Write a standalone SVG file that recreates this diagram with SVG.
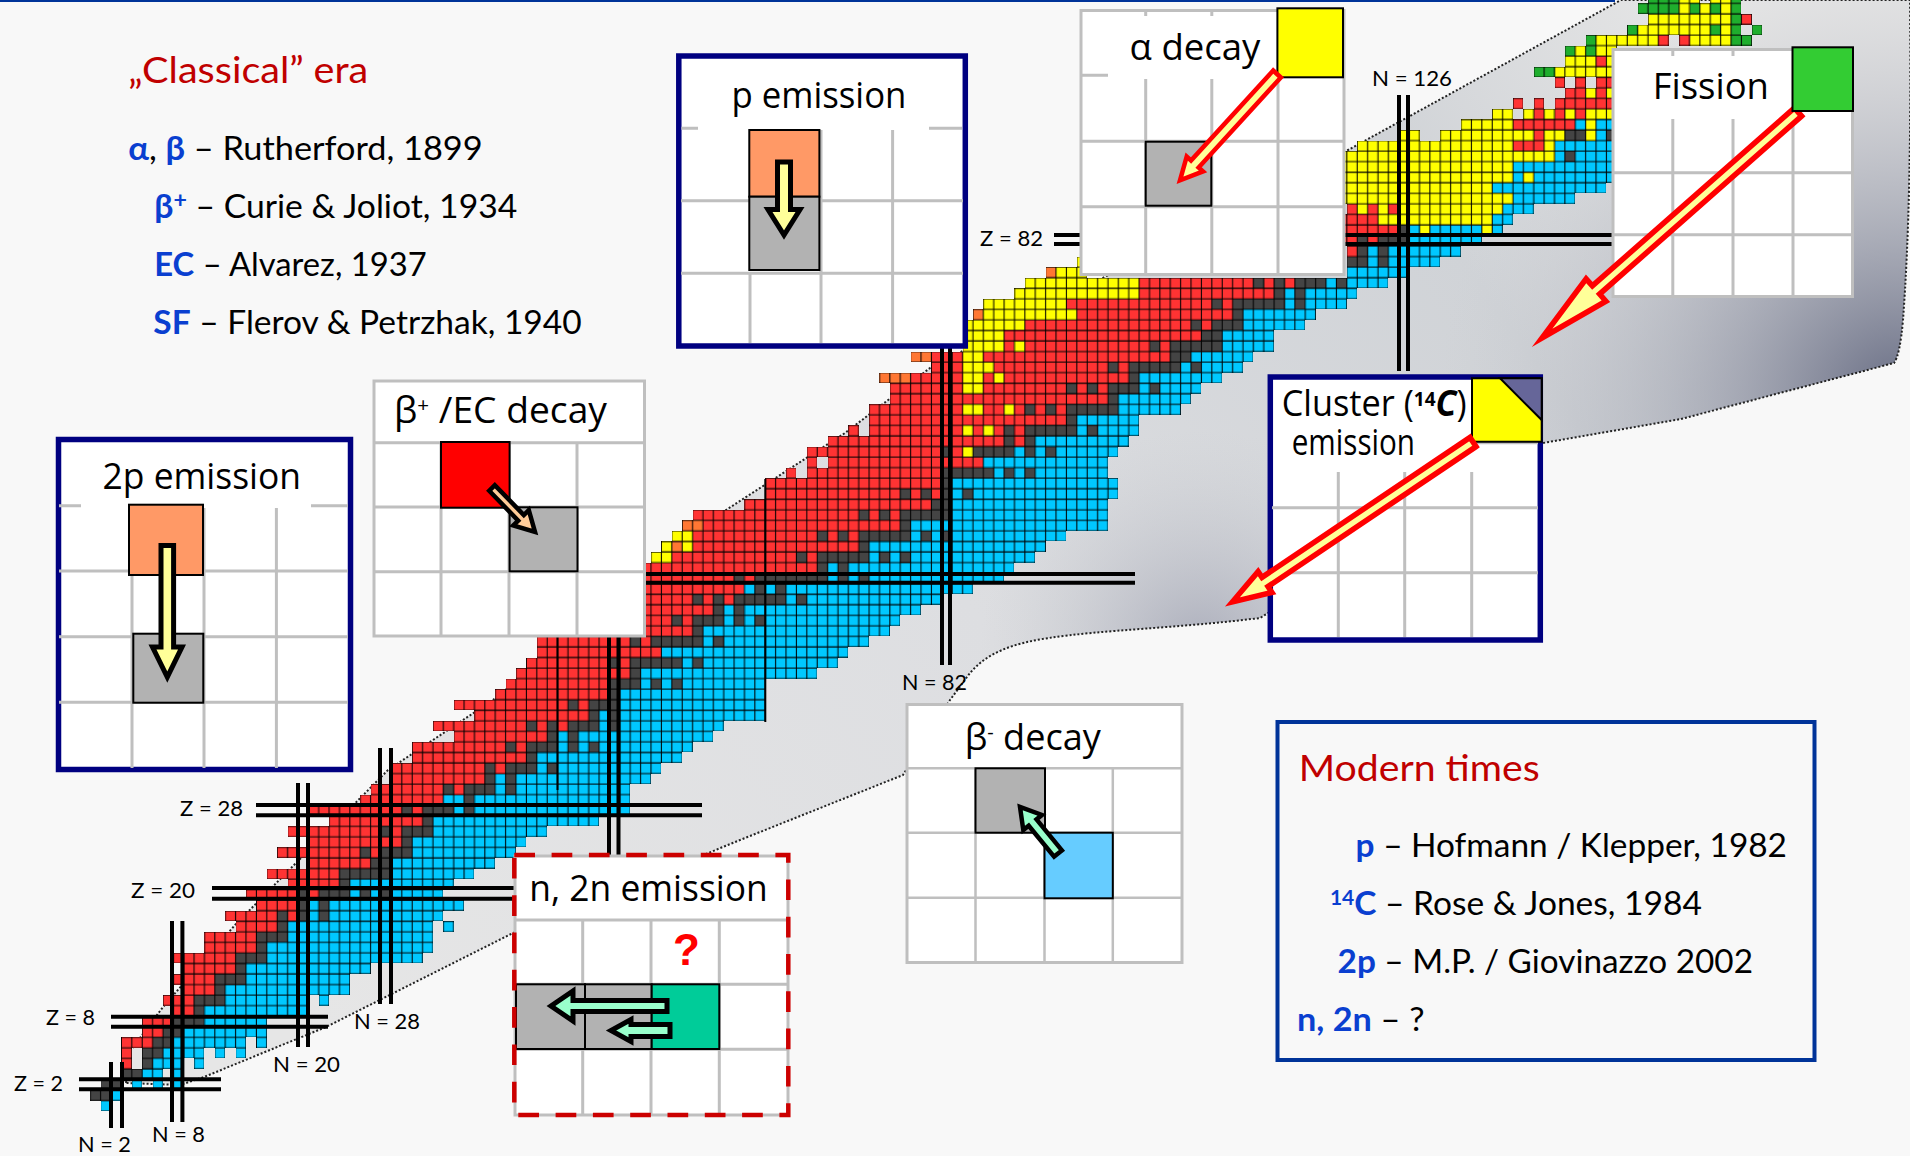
<svg xmlns="http://www.w3.org/2000/svg" xmlns:xlink="http://www.w3.org/1999/xlink" width="1910" height="1156" viewBox="0 0 1910 1156">
<style>
.t{font-family:Lato,"Open Sans","Liberation Sans",sans-serif;fill:#000}
.lab{font-size:22px}
.big{font-size:32px}
.head{font-size:36px}
.red{fill:#c00000}
.bl{fill:#0a3fd0;font-weight:700}
.h{font-family:"Open Sans","DejaVu Sans",sans-serif;font-size:36px;fill:#000}
.box{fill:#fff;stroke:#bfbfbf;stroke-width:3}
.nav{fill:#fff;stroke:#000080;stroke-width:5.5}
.g{fill:none;stroke:#bfbfbf;stroke-width:3}
.c{stroke:#000;stroke-width:2}
.gy{fill:#b2b2b2}
.m{fill:none;stroke:#000;stroke-width:4}
.cell{fill:none;stroke-width:1;shape-rendering:crispEdges}
.gl{fill:none;stroke:#000;stroke-width:.1}
.ar{stroke-miterlimit:10}
.ay{fill:#ff9;stroke:#000;stroke-width:5}
.ar2{fill:#ff9;stroke:#f00;stroke-width:5.5}
.ag{fill:#9fc;stroke:#000;stroke-width:4.5}
</style>
<defs>
<linearGradient id="bg" gradientUnits="userSpaceOnUse" x1="300" y1="1000" x2="1700" y2="0">
<stop offset="0" stop-color="#e6e6e6"/><stop offset=".45" stop-color="#dddee1"/><stop offset=".8" stop-color="#d0d3d7"/><stop offset="1" stop-color="#e6e6e6"/>
</linearGradient>
<radialGradient id="d1" gradientUnits="userSpaceOnUse" cx="1900" cy="400" r="460">
<stop offset="0" stop-color="#666b82"/><stop offset=".35" stop-color="#8f93a3" stop-opacity=".7"/><stop offset="1" stop-color="#c8cacf" stop-opacity="0"/>
</radialGradient>
<radialGradient id="d2" gradientUnits="userSpaceOnUse" cx="1200" cy="650" r="220">
<stop offset="0" stop-color="#9fa2b2" stop-opacity=".8"/><stop offset="1" stop-color="#c8cacf" stop-opacity="0"/>
</radialGradient>
<path id="band" d="M126 1083L131 1050L163 1007L235 925L294 865L388 770L493 700L726 510L845 433L930 368L1348 150L1621 0H1910Q1912 200 1903 320Q1900 355 1894 363L1681 419L1543 443L1260 618C1180 628 1100 630 1049 638C1015 643 985 652 967 677L950 700L903 775L740 840L513 933L326 1027L204 1077L180 1085Z"/>
<path id="gl" class="gl" d="M0 0V20M1 0V20M2 0V20M3 0V20M4 0V20M5 0V20M6 0V20M7 0V20M8 0V20M9 0V20M10 0V20M11 0V20M12 0V20M13 0V20M0 0H13M0 1H13M0 2H13M0 3H13M0 4H13M0 5H13M0 6H13M0 7H13M0 8H13M0 9H13M0 10H13M0 11H13M0 12H13M0 13H13M0 14H13M0 15H13M0 16H13M0 17H13M0 18H13M0 19H13M0 20H13"/>
<pattern id="pr" patternUnits="userSpaceOnUse" width="13" height="20" patternTransform="translate(0 .5)"><rect width="13" height="20" fill="#f33"/><use href="#gl"/></pattern>
<pattern id="pb" patternUnits="userSpaceOnUse" width="13" height="20" patternTransform="translate(0 .5)"><rect width="13" height="20" fill="#00c8ff"/><use href="#gl"/></pattern>
<pattern id="pd" patternUnits="userSpaceOnUse" width="13" height="20" patternTransform="translate(0 .5)"><rect width="13" height="20" fill="#444"/><use href="#gl"/></pattern>
<pattern id="py" patternUnits="userSpaceOnUse" width="13" height="20" patternTransform="translate(0 .5)"><rect width="13" height="20" fill="#ff0"/><use href="#gl"/></pattern>
<pattern id="po" patternUnits="userSpaceOnUse" width="13" height="20" patternTransform="translate(0 .5)"><rect width="13" height="20" fill="#ff7733"/><use href="#gl"/></pattern>
<pattern id="pg" patternUnits="userSpaceOnUse" width="13" height="20" patternTransform="translate(0 .5)"><rect width="13" height="20" fill="#1fae2d"/><use href="#gl"/></pattern>
</defs>
<rect width="1910" height="1156" fill="#f8f8f8"/>
<rect width="1615" height="2" fill="#039"/>
<g id="band-bg">
<use href="#band" fill="url(#bg)"/><use href="#band" fill="url(#d1)"/><use href="#band" fill="url(#d2)"/>
<use href="#band" fill="none" stroke="#222" stroke-width="2" stroke-dasharray="2 2"/>
</g>
<g id="chart" transform="translate(90.23 1111.15) scale(10.385 -10.55) translate(0 .5)">
<path class="cell" stroke="url(#pb)" d="M1 0h1M2 1h1M4 2h1M6 2h1M8 2h1M5 3h2M8 3h1M6 4h3M10 4h1M7 5h4M12 5h1M14 5h1M8 6h7M16 6h1M9 7h8M11 8h6M11 9h10M13 10h8M22 10h1M13 11h12M15 12h10M15 13h12M17 14h15M17 15h16M19 16h14M19 17h14M34 17h1M21 18h1M23 18h11M21 19h1M23 19h13M25 20h1M27 20h1M29 20h5M25 21h10M29 22h8M29 23h10M31 24h10M31 25h11M33 26h11M33 27h16M35 28h1M37 28h15M34 29h2M37 29h15M39 30h1M41 30h11M39 31h1M41 31h13M43 32h1M45 32h10M43 33h14M45 34h1M47 34h1M49 34h9M45 35h1M47 35h13M49 36h1M51 36h10M49 37h1M51 37h14M51 38h14M51 39h14M53 40h1M55 40h1M57 40h8M53 41h17M57 42h1M59 42h13M55 43h18M59 44h1M61 44h14M59 45h18M61 46h1M63 46h1M65 46h13M61 47h1M63 47h17M67 48h1M69 48h13M63 49h1M65 49h1M67 49h18M71 50h1M73 50h1M75 50h13M71 51h1M73 51h16M75 52h1M77 52h1M79 52h12M75 53h17M79 54h1M81 54h1M83 54h11M79 55h19M83 56h15M83 57h15M83 58h1M85 58h14M83 59h16M87 60h1M89 60h1M91 60h7M86 61h12M89 62h1M91 62h1M93 62h6M91 63h9M95 64h1M97 64h4M95 65h6M99 66h6M99 67h7M101 68h1M103 68h4M101 69h8M105 70h1M107 70h4M106 71h6M109 72h5M109 73h5M111 74h6M111 75h7M115 76h1M117 76h4M115 77h1M117 77h5M119 78h1M121 78h4M121 79h6M123 80h1M125 80h5M123 81h1M125 81h7M127 82h7M127 83h1M129 83h5M135 83h1M135 84h2M136 85h3M137 86h6M135 87h11M137 88h1M139 88h8M137 89h10M141 90h1M143 90h4M141 91h6M145 92h1M143 93h1M145 93h2"/>
<path class="cell" stroke="url(#pr)" d="M3 4h1M3 5h1M3 6h3M5 7h2M5 8h3M8 9h2M7 10h3M9 11h3M8 12h4M9 13h5M8 14h6M11 15h5M11 16h5M14 17h4M13 18h5M19 18h1M16 19h4M15 20h5M21 20h1M19 21h5M17 22h7M21 23h6M18 24h8M27 24h1M21 25h9M19 26h9M29 26h1M23 27h9M21 28h9M31 28h1M26 29h8M27 30h7M35 30h1M29 31h9M29 32h9M39 32h1M31 33h11M31 34h9M41 34h1M35 35h9M33 36h9M43 36h1M45 36h1M37 37h11M35 38h11M47 38h1M39 39h11M40 40h10M41 41h11M42 42h8M51 42h1M43 43h12M43 44h9M53 44h1M43 45h15M50 46h6M57 46h1M50 47h10M50 48h8M59 48h1M61 48h1M50 49h13M50 50h12M63 50h1M50 51h20M56 52h12M69 52h1M58 53h16M58 54h12M71 54h1M73 54h1M59 55h19M58 56h16M75 56h1M77 56h1M63 57h18M65 58h13M79 58h1M81 58h1M65 59h17M67 60h1M69 60h13M69 61h1M71 61h15M69 62h13M83 62h1M71 63h17M89 63h1M73 64h1M75 64h9M85 64h1M87 64h1M89 64h1M75 65h19M75 66h9M86 66h2M89 66h1M91 66h1M93 66h1M77 67h21M77 68h7M86 68h8M95 68h1M97 68h1M79 69h5M86 69h1M88 69h12M81 70h3M87 70h11M99 70h1M81 71h3M86 71h18M88 72h1M90 72h12M103 72h1M88 73h19M90 74h16M107 74h1M95 75h15M94 76h14M109 76h1M101 77h13M101 78h11M113 78h1M115 78h1M121 81h1M120 82h2M123 82h1M120 83h6M120 84h4M121 85h1M123 85h1M125 85h1M137 91h3M139 92h1M137 93h6M139 94h1M141 94h1M143 94h1M137 95h1M139 95h1M141 95h6M142 96h2M145 96h1M141 97h1M143 97h1M145 97h2M145 99h1M151 101h1M153 101h1M159 103h1"/>
<path class="cell" stroke="url(#pd)" d="M0 1h2M1 2h2M3 3h2M5 4h1M5 5h2M6 6h2M7 7h2M8 8h3M10 9h1M10 10h3M12 11h1M12 12h3M14 13h1M14 14h3M16 15h1M16 16h3M18 17h1M18 18h1M20 18h1M22 18h1M20 19h1M22 19h1M20 20h1M22 20h3M26 20h1M28 20h1M24 21h1M24 22h5M27 23h2M26 24h1M28 24h3M30 25h1M28 26h1M30 26h3M32 27h1M30 28h1M32 28h3M36 28h1M36 29h1M34 30h1M36 30h3M40 30h1M38 31h1M40 31h1M38 32h1M40 32h3M44 32h1M42 33h1M40 34h1M42 34h3M46 34h1M48 34h1M44 35h1M46 35h1M42 36h1M44 36h1M46 36h3M50 36h1M48 37h1M50 37h1M46 38h1M48 38h3M50 39h1M50 40h3M54 40h1M56 40h1M52 41h1M50 42h1M52 42h5M58 42h1M52 44h1M54 44h5M60 44h1M58 45h1M56 46h1M58 46h3M62 46h1M64 46h1M60 47h1M62 47h1M58 48h1M60 48h1M62 48h5M68 48h1M64 49h1M66 49h1M62 50h1M64 50h7M72 50h1M74 50h1M70 51h1M72 51h1M68 52h1M70 52h5M76 52h1M78 52h1M74 53h1M70 54h1M72 54h1M74 54h5M80 54h1M82 54h1M78 55h1M74 56h1M76 56h1M78 56h5M81 57h2M78 58h1M80 58h1M82 58h1M84 58h1M82 59h1M82 60h5M88 60h1M90 60h1M82 62h1M85 62h4M90 62h1M92 62h1M88 63h1M90 63h1M88 64h1M90 64h5M96 64h1M94 65h1M90 66h1M92 66h1M94 66h5M98 67h1M94 68h1M96 68h1M98 68h3M102 68h1M100 69h1M98 70h1M100 70h5M106 70h1M104 71h2M102 72h1M104 72h5M107 73h2M106 74h1M108 74h3M110 75h1M108 76h1M110 76h5M116 76h1M114 77h1M116 77h1M112 78h1M114 78h1M116 78h3M120 78h1M121 80h2M124 80h1M122 81h1M124 81h1M122 82h1M124 82h3M126 83h1M142 90h1M142 92h2M146 92h1"/>
<path class="cell" stroke="url(#py)" d="M54 52h2M55 53h1M57 53h1M56 54h2M84 62h1M84 64h1M86 64h1M84 66h2M88 66h1M84 68h2M84 69h2M87 69h1M84 70h3M84 71h2M84 72h4M89 72h1M84 73h4M84 74h6M86 75h9M86 76h8M89 77h12M90 78h11M93 79h3M95 80h1M128 83h1M134 83h1M124 84h11M122 85h1M124 85h1M126 85h10M120 86h17M120 87h15M120 88h17M138 88h1M120 89h17M120 90h21M122 91h15M140 91h1M126 92h2M130 92h9M140 92h2M144 92h1M132 93h5M144 93h1M135 94h2M138 94h1M140 94h1M142 94h1M144 94h3M144 96h1M146 96h1M141 98h6M142 99h3M146 99h1M143 100h1M145 100h2M145 101h6M154 101h4M149 102h7M157 102h1M150 103h8M153 104h1M155 104h1M157 104h1M153 105h2M156 105h2"/>
<path class="cell" stroke="url(#po)" d="M56 53h1M57 55h2M76 69h3M79 71h2M85 75h1M92 79h1"/>
<path class="cell" stroke="url(#pg)" d="M139 98h2M142 100h1M144 100h1M144 101h1M158 101h2M148 102h1M156 102h1M158 102h1M160 102h1M158 103h1M149 104h4M154 104h1M156 104h1M158 104h1M150 105h3M158 105h1"/>
</g>
<g id="magic-lines">
<path class="m" d="M557.5 637V790M765.3 479V722" style="stroke-width:2"/>
<path class="m" d="M111 1062V1128M122 1062V1128M172 921V1122M182.4 921V1122M298 783V1047M308 783V1047M380 748V1004M391 748V1004M609 637V856M618.5 637V856M942 347V665M950 347V665M1399 95V371M1408 95V371"/>
<path class="m" d="M79 1079.3H221M79 1089.3H221M111 1016.7H328M111 1026.7H328M212 888H514M212 898.7H514M256 805H702M256 815.3H702M640 574H1135M640 582.7H1135M1054 235H1612M1054 244H1612"/>
</g>
<g id="magic-labels">
<text class="t lab" x="180" y="815.7" textLength="63" lengthAdjust="spacingAndGlyphs">Z = 28</text>
<text class="t lab" x="131" y="897.7" textLength="64" lengthAdjust="spacingAndGlyphs">Z = 20</text>
<text class="t lab" x="46" y="1025" textLength="49" lengthAdjust="spacingAndGlyphs">Z = 8</text>
<text class="t lab" x="14" y="1090.7" textLength="49" lengthAdjust="spacingAndGlyphs">Z = 2</text>
<text class="t lab" x="78" y="1152" textLength="53" lengthAdjust="spacingAndGlyphs">N = 2</text>
<text class="t lab" x="152" y="1141.7" textLength="53" lengthAdjust="spacingAndGlyphs">N = 8</text>
<text class="t lab" x="273" y="1072" textLength="67" lengthAdjust="spacingAndGlyphs">N = 20</text>
<text class="t lab" x="354" y="1028.7" textLength="66" lengthAdjust="spacingAndGlyphs">N = 28</text>
<text class="t lab" x="902" y="690" textLength="65" lengthAdjust="spacingAndGlyphs">N = 82</text>
<text class="t lab" x="980" y="245.7" textLength="63" lengthAdjust="spacingAndGlyphs">Z = 82</text>
<text class="t lab" x="1372" y="86" textLength="80" lengthAdjust="spacingAndGlyphs">N = 126</text>
</g>
<g id="classical">
<text class="t head red" x="128.3" y="83.3" textLength="240" lengthAdjust="spacingAndGlyphs">„Classical” era</text>
<text class="t big" x="128.3" y="160" textLength="354.4" lengthAdjust="spacingAndGlyphs"><tspan class="bl">α</tspan>, <tspan class="bl">β</tspan> – Rutherford, 1899</text>
<text class="t big" x="154.3" y="218.3" textLength="363" lengthAdjust="spacingAndGlyphs"><tspan class="bl">β</tspan><tspan class="bl" dy="-10" font-size="22">+</tspan><tspan dy="10"> – Curie &amp; Joliot, 1934</tspan></text>
<text class="t big" x="154.3" y="276" textLength="272.4" lengthAdjust="spacingAndGlyphs"><tspan class="bl">EC</tspan> – Alvarez, 1937</text>
<text class="t big" x="153.3" y="334.3" textLength="428.4" lengthAdjust="spacingAndGlyphs"><tspan class="bl">SF</tspan> – Flerov &amp; Petrzhak, 1940</text>
</g>
<g id="box-2p">
<rect class="nav" x="58.5" y="439.5" width="292" height="330"/>
<path class="g" d="M59 505.7H81M311 505.7H348M59 571H348M59 636.7H348M59 702.3H348M132 571V768M204 508V768M276.4 508V768"/>
<rect class="c" x="129" y="504.7" width="74" height="70.3" fill="#f96"/>
<rect class="c gy" x="133.3" y="633.7" width="70" height="69"/>
<text class="h" x="102.5" y="489" textLength="198.5" lengthAdjust="spacingAndGlyphs">2p emission</text>
</g>
<g id="box-beta-plus">
<rect class="box" x="374" y="381" width="270.5" height="255"/>
<path class="g" d="M374 442.7H644M374 507H644M374 571.7H644M441 443V636M509 443V636M577 443V636"/>
<rect class="c" x="441" y="442" width="68.6" height="65.7" fill="#f00"/>
<rect class="c gy" x="509.6" y="507.3" width="67.9" height="64"/>
<text class="h" x="394" y="423" textLength="213" lengthAdjust="spacingAndGlyphs">β<tspan dy="-11" font-size="20">+</tspan><tspan dy="11"> /EC decay</tspan></text>
</g>
<g id="box-p">
<rect class="nav" x="678.8" y="56" width="286.5" height="290"/>
<path class="g" d="M681.4 128.3H698M929 128.3H962M681 200.7H963M681 273.3H963M750 273V343M821 130V343M892.6 130V343"/>
<rect class="c" x="749.3" y="130" width="70.1" height="66.7" fill="#f96"/>
<rect class="c gy" x="749.3" y="196.7" width="70.1" height="73.3"/>
<text class="h" x="731.4" y="108" textLength="175" lengthAdjust="spacingAndGlyphs">p emission</text>
</g>
<g id="box-alpha">
<rect class="box" x="1081" y="10.5" width="263" height="264"/>
<path class="g" d="M1081 75.3H1108M1081 141.3H1344M1081 206.7H1344M1145.7 79V273M1211.8 79V273M1278 79V273M1145.7 10V16M1211.8 10V16"/>
<rect class="c" x="1277.4" y="8.3" width="65.6" height="69" fill="#ff0"/>
<rect class="c gy" x="1145.7" y="141.7" width="65.6" height="64"/>
<text class="h" x="1129.6" y="60" textLength="130.8" lengthAdjust="spacingAndGlyphs">α decay</text>
</g>
<g id="box-fission">
<rect class="box" x="1613" y="49.5" width="239.5" height="247"/>
<path class="g" d="M1613 172.7H1852M1613 234.7H1852M1672.8 119V296M1733 119V296M1793 119V296M1672.8 49V56M1733 49V56"/>
<text class="h" x="1652.7" y="99" textLength="116.3" lengthAdjust="spacingAndGlyphs">Fission</text>
</g>
<g id="box-cluster">
<rect class="nav" x="1270.3" y="377" width="270" height="263"/>
<path class="g" d="M1272 507.7H1538M1272 572.7H1538M1472 442.7H1538M1338.3 472V637M1404.7 472V637M1471.7 472V637"/>
<path class="c" fill="#ff0" d="M1472 378.3H1541.7V441.7H1472Z"/>
<path class="c" fill="#669" d="M1500 378.3H1541.7V420Z"/>
<text class="h" x="1281.7" y="416" textLength="185" lengthAdjust="spacingAndGlyphs">Cluster (<tspan dy="-10" font-size="20" font-weight="700">14</tspan><tspan dy="10" font-weight="700" font-style="italic">C</tspan>)</text>
<text class="h" x="1291.7" y="455" textLength="123.3" lengthAdjust="spacingAndGlyphs">emission</text>
</g>
<g id="box-beta-minus">
<rect class="box" x="907" y="704.5" width="275" height="258"/>
<path class="g" d="M907 768.3H1182M907 832.7H1182M907 897.7H1182M975.5 768V962M1044.5 768V962M1112.8 768V962" style="stroke-width:2.5"/>
<rect class="c gy" x="975.5" y="768.3" width="69.5" height="64.4"/>
<rect class="c" x="1044.5" y="832.7" width="68.3" height="65.6" fill="#6cf"/>
<text class="h" x="964.7" y="750" textLength="136.1" lengthAdjust="spacingAndGlyphs">β<tspan dy="-11" font-size="20">-</tspan><tspan dy="11"> decay</tspan></text>
</g>
<g id="box-n">
<rect x="515" y="856" width="273" height="259" fill="#fff" stroke="#bfbfbf" stroke-width="3"/>
<path class="g" d="M515 920H788M515 984.3H788M515 1049.3H788M582.7 920V1115M651 920V1115M719.3 920V1115"/>
<rect class="c gy" x="516" y="984.3" width="69" height="64.7"/>
<rect class="c gy" x="585" y="984.3" width="66.7" height="64.7"/>
<rect class="c" x="651.7" y="984.3" width="67.6" height="64.7" fill="#0c9"/>
<rect x="514.3" y="855" width="274" height="260" fill="none" stroke="#c00" stroke-width="4.5" stroke-dasharray="20.7 16.6"/>
<text x="673" y="965" font-family="'Liberation Sans',sans-serif" font-weight="700" font-size="44" fill="#f00">?</text>
<text class="h" x="529.3" y="901" textLength="238.4" lengthAdjust="spacingAndGlyphs">n, 2n emission</text>
</g>
<g id="box-modern">
<rect x="1277.5" y="722" width="537" height="338" fill="none" stroke="#039" stroke-width="4"/>
<text class="t head red" x="1298.7" y="780.7" textLength="241" lengthAdjust="spacingAndGlyphs">Modern times</text>
<text class="t big" x="1355.6" y="856.7" textLength="431.4" lengthAdjust="spacingAndGlyphs"><tspan class="bl">p</tspan> – Hofmann / Klepper, 1982</text>
<text class="t big" x="1329.9" y="915" textLength="372" lengthAdjust="spacingAndGlyphs"><tspan class="bl" dy="-10" font-size="20">14</tspan><tspan class="bl" dy="10">C</tspan> – Rose &amp; Jones, 1984</text>
<text class="t big" x="1337.6" y="973.3" textLength="415.4" lengthAdjust="spacingAndGlyphs"><tspan class="bl">2p</tspan> – M.P. / Giovinazzo 2002</text>
<text class="t big" x="1297" y="1031" textLength="127.6" lengthAdjust="spacingAndGlyphs"><tspan class="bl">n, 2n</tspan> – ?</text>
</g>
<g id="connectors">
<polygon class="ay ar" points="161,545.5 173.6,545.5 173.6,647 182,647 167.3,677 152.5,647 161,647"/>
<polygon class="ay ar" points="777.5,162 790.5,162 790.5,209.5 800,209.5 784,235 768,209.5 777.5,209.5"/>
<polygon class="ar ar2" style="stroke-width:4.5" points="1280.8,77.5 1198.6,167.5 1203,171.4 1180,180.3 1186.7,156.6 1191,160.5 1273.2,70.5"/>
<polygon class="ar ar2" points="1801.6,116.1 1599.6,294.1 1605.9,301.2 1542,338 1586.1,278.8 1592.4,285.9 1794.4,107.9"/>
<polygon class="ar ar2" points="1476,446.6 1268,586.6 1271.9,592.4 1232.5,601.8 1258.1,571.6 1262,577.4 1470,437.4"/>
<polygon class="ar" fill="#fc9" stroke="#000" stroke-width="4.5" points="489.2,490.8 518.2,520.6 513.2,525.5 535,532 528.8,510.1 523.8,515 494.8,485.2"/>
<polygon class="ar ag" points="1061.9,850.4 1036.5,819.4 1041.9,815 1020,807 1023.3,830 1028.7,825.7 1054.1,856.6"/>
<polygon class="ar ag" style="stroke-width:5" points="667,1000.5 573,1000.5 573,991 551,1006 573,1021 573,1011.5 667,1011.5"/>
<polygon class="ar ag" style="stroke-width:5" points="670,1024.5 631,1024.5 631,1019.5 611,1030.5 631,1041.5 631,1036.5 670,1036.5"/>
</g>
<g id="fission-source">
<rect class="c" x="1792.5" y="47.3" width="60.5" height="63.7" fill="#3c3"/>
</g>
</svg>
